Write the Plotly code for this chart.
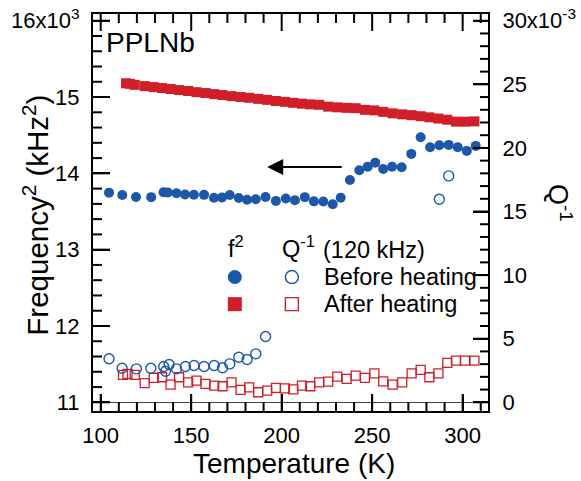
import plotly.graph_objects as go

# ---------------- data ----------------
# f^2 before heating (filled blue circles)
T_f2_before = [104.6, 111.9, 119.5, 127.9, 134.7, 137.1, 141.9, 146.6, 151.5, 157.1,
               162.6, 167.0, 171.3, 176.3, 180.9, 185.7, 191.1, 196.8, 202.3, 207.3,
               212.8, 217.8, 223.0, 228.2, 232.6, 237.7, 242.9, 247.5, 251.7, 256.1,
               261.0, 266.3, 271.6, 276.8, 282.0, 287.1, 292.3, 297.3, 302.3, 307.2]
f2_before = [13747, 13717, 13690, 13688, 13753, 13749, 13739, 13723, 13719, 13718,
             13680, 13684, 13717, 13677, 13655, 13661, 13690, 13639, 13671, 13648,
             13688, 13633, 13631, 13596, 13680, 13913, 14041, 14088, 14140, 14058,
             14088, 14080, 14255, 14474, 14343, 14369, 14373, 14343, 14294, 14360]

# Q^-1 before heating (open blue circles)
T_Q_before = [104.6, 111.8, 119.7, 127.7, 134.8, 135.8, 137.8, 141.9, 146.8, 151.6,
              157.1, 162.7, 167.3, 171.3, 176.3, 180.9, 185.7, 191.1, 287.1, 292.3]
Q_before = [3.42e-3, 2.68e-3, 2.63e-3, 2.68e-3, 2.81e-3, 2.44e-3, 2.97e-3, 2.63e-3, 2.81e-3, 2.89e-3,
            2.81e-3, 2.89e-3, 2.71e-3, 3.02e-3, 3.54e-3, 3.36e-3, 3.81e-3, 5.17e-3, 15.96e-3, 17.80e-3]

# f^2 after heating (filled red squares)
T_f2_after = [114.0, 116.2, 118.8, 124.3, 129.3, 133.9, 138.6, 143.3, 148.3, 152.9,
              157.9, 162.7, 167.3, 172.3, 177.3, 182.0, 187.0, 192.0, 196.8, 201.8,
              206.4, 211.2, 215.8, 220.7, 225.7, 230.7, 235.9, 240.9, 246.0, 251.2,
              256.1, 261.3, 266.6, 271.8, 276.8, 281.6, 286.6, 291.5, 296.3, 301.3, 306.5]
f2_after = [15180, 15173, 15160, 15143, 15130, 15118, 15105, 15091, 15079, 15064,
            15052, 15038, 15026, 15012, 15000, 14990, 14976, 14963, 14948, 14937,
            14924, 14913, 14904, 14898, 14874, 14865, 14858, 14854, 14832, 14825,
            14806, 14786, 14773, 14762, 14749, 14734, 14718, 14703, 14678, 14677, 14681]

# Q^-1 after heating (open red squares)
T_Q_after = [112.3, 114.8, 118.8, 124.3, 129.3, 133.9, 138.6, 143.3, 148.3, 152.9,
             157.9, 162.7, 167.3, 172.3, 177.3, 182.0, 187.0, 192.0, 196.8, 201.8,
             206.4, 211.2, 215.8, 220.7, 225.7, 230.7, 235.9, 240.9, 246.0, 251.2,
             256.1, 261.3, 266.6, 271.8, 276.8, 281.6, 286.6, 291.5, 296.3, 301.3, 306.5]
Q_after = [2.16e-3, 2.24e-3, 2.16e-3, 1.50e-3, 1.92e-3, 1.97e-3, 1.39e-3, 1.97e-3, 1.57e-3, 1.71e-3,
           1.45e-3, 1.31e-3, 1.26e-3, 1.57e-3, 0.98e-3, 1.18e-3, 0.79e-3, 0.92e-3, 1.13e-3, 1.10e-3,
           1.02e-3, 1.31e-3, 1.26e-3, 1.57e-3, 1.63e-3, 2.02e-3, 1.84e-3, 2.10e-3, 1.92e-3, 2.28e-3,
           1.65e-3, 1.39e-3, 1.57e-3, 2.28e-3, 2.55e-3, 1.97e-3, 2.28e-3, 3.10e-3, 3.28e-3, 3.28e-3, 3.28e-3]

# axis ticks
x_ticks = [100, 150, 200, 250, 300]
y_ticks = [11000, 12000, 13000, 14000, 15000, 16000]
y_ticktext = ["11", "12", "13", "14", "15", "16x10<sup>3</sup>"]
y2_ticks = [0, 0.005, 0.010, 0.015, 0.020, 0.025, 0.030]
y2_ticktext = ["0", "5", "10", "15", "20", "25", "30x10<sup>-3</sup>"]

# minor tick positions (axis decoration)
x_minor = [v for v in range(100, 311, 10) if v not in x_ticks]
y_minor = [v for v in range(11000, 16001, 200) if v not in y_ticks]
y2_minor = [k / 1000 for k in range(0, 31) if k % 5 != 0]

# ---------------- style ----------------
BLUE = "#1d58a8"
RED = "#d01f29"
FONT = "Liberation Sans, Arial, sans-serif"

W, H = 581, 481
# plot frame in window pixels
FX0, FX1, FY0, FY1 = 93.3, 488.0, 14.3, 410.7
L, T = FX0, FY0
R, B = W - FX1, H - FY1
PW, PH = FX1 - FX0, FY1 - FY0
X_RANGE = [95.74, 314.0]


def px(xp):
    return (xp - FX0) / PW


def py(yp):
    return (FY1 - yp) / PH


fig = go.Figure()

fig.add_trace(go.Scatter(x=T_f2_after, y=f2_after, mode="markers", yaxis="y",
                         marker=dict(symbol="square", size=10, color=RED, line=dict(width=0)),
                         showlegend=False))
fig.add_trace(go.Scatter(x=T_Q_after, y=Q_after, mode="markers", yaxis="y2",
                         marker=dict(symbol="square-open", size=9, color=RED, line=dict(width=1.3)),
                         showlegend=False))
fig.add_trace(go.Scatter(x=T_Q_before, y=Q_before, mode="markers", yaxis="y2",
                         marker=dict(symbol="circle-open", size=10, color=BLUE, line=dict(width=1.4)),
                         showlegend=False))
fig.add_trace(go.Scatter(x=T_f2_before, y=f2_before, mode="markers", yaxis="y",
                         marker=dict(symbol="circle", size=10, color=BLUE, line=dict(width=0)),
                         showlegend=False))

TICKFONT = dict(family=FONT, size=22, color="black")


def axis(**kw):
    d = dict(showline=True, linecolor="black", linewidth=2, ticks="inside",
             tickcolor="black", tickwidth=2, showgrid=False)
    d.update(kw)
    return d


fig.update_layout(
    template="none",
    width=W, height=H,
    margin=dict(l=L, r=R, t=T, b=B, pad=0, autoexpand=False),
    plot_bgcolor="white", paper_bgcolor="white",
    font=dict(family=FONT, color="black"),
    xaxis=axis(range=X_RANGE, tickmode="array", tickvals=x_ticks, ticklen=17, mirror=True,
               tickfont=TICKFONT, ticklabelstandoff=4),
    yaxis=axis(range=[10886, 16088], tickmode="array", tickvals=y_ticks, ticktext=y_ticktext,
               ticklen=17, tickfont=TICKFONT, ticklabeloverflow="allow", ticklabelstandoff=7),
    yaxis2=axis(range=[-0.000685, 0.03053], overlaying="y", side="right", tickmode="array",
                tickvals=y2_ticks, ticktext=y2_ticktext, ticklen=15, tickfont=TICKFONT,
                ticklabeloverflow="allow", ticklabelstandoff=8),
)

ann = []
# axis titles
ann.append(dict(x=px(294), y=py(463), xref="paper", yref="paper", text="Temperature (K)",
                showarrow=False, font=dict(size=28), xanchor="center", yanchor="middle"))
ann.append(dict(x=px(35), y=py(215), xref="paper", yref="paper",
                text="Frequency<sup>2</sup> (kHz<sup>2</sup>)", textangle=-90,
                showarrow=False, font=dict(size=29.5), xanchor="center", yanchor="middle"))
ann.append(dict(x=px(560), y=py(203), xref="paper", yref="paper",
                text="Q<sup>-1</sup>", textangle=90,
                showarrow=False, font=dict(size=27), xanchor="center", yanchor="middle"))
# sample label
ann.append(dict(x=px(104), y=py(43), xref="paper", yref="paper", text="PPLNb",
                showarrow=False, font=dict(size=28), xanchor="left", yanchor="middle"))
# legend texts
ann.append(dict(x=px(236), y=py(247), xref="paper", yref="paper", text="f<sup>2</sup>",
                showarrow=False, font=dict(size=23.5), xanchor="center", yanchor="middle"))
ann.append(dict(x=px(280), y=py(247), xref="paper", yref="paper", text="Q<sup>-1</sup>",
                showarrow=False, font=dict(size=23.5), xanchor="left", yanchor="middle"))
ann.append(dict(x=px(321), y=py(250), xref="paper", yref="paper", text="(120 kHz)",
                showarrow=False, font=dict(size=23.5), xanchor="left", yanchor="middle"))
ann.append(dict(x=px(322), y=py(277), xref="paper", yref="paper", text="Before heating",
                showarrow=False, font=dict(size=23.5), xanchor="left", yanchor="middle"))
ann.append(dict(x=px(322), y=py(304), xref="paper", yref="paper", text="After heating",
                showarrow=False, font=dict(size=23.5), xanchor="left", yanchor="middle"))
# arrow
ann.append(dict(x=192.0, y=14084, ax=234.0, ay=14084, xref="x", yref="y", axref="x", ayref="y",
                text="", showarrow=True, arrowhead=2, arrowsize=1.6, arrowwidth=2,
                arrowcolor="black"))
fig.update_layout(annotations=ann)

shapes = []
TICK_LINE = dict(color="black", width=2)


# tick marks drawn explicitly on all four sides (inside)
def xtick(v, ln, top):
    return dict(type="line", xref="x", yref="y domain", ysizemode="pixel",
                yanchor=(1 if top else 0), y0=0, y1=(-ln if top else ln), x0=v, x1=v,
                line=TICK_LINE, layer="above")


def ytick(v, ln, ref, right):
    return dict(type="line", xref="x domain", yref=ref, xsizemode="pixel",
                xanchor=(1 if right else 0), x0=0, x1=(-ln if right else ln), y0=v, y1=v,
                line=TICK_LINE, layer="above")


for top in (False, True):
    shapes += [xtick(v, 17, top) for v in x_ticks]
    shapes += [xtick(v, 9, top) for v in x_minor]
shapes += [ytick(v, 17, "y", False) for v in y_ticks]
shapes += [ytick(v, 9, "y", False) for v in y_minor]
shapes += [ytick(v, 15, "y2", True) for v in y2_ticks]
shapes += [ytick(v, 8, "y2", True) for v in y2_minor]


# legend markers
def marker_shape(kind, xc, yc, size, fill, line_w):
    return dict(type=kind, xref="paper", yref="paper", xsizemode="pixel", ysizemode="pixel",
                xanchor=px(xc), yanchor=py(yc), x0=-size / 2, x1=size / 2, y0=-size / 2, y1=size / 2,
                fillcolor=fill, line=dict(color=(BLUE if kind == "circle" else RED), width=line_w),
                layer="above")


shapes.append(marker_shape("circle", 235, 277, 14, BLUE, 0))
shapes.append(marker_shape("circle", 292, 277, 13, "rgba(0,0,0,0)", 1.5))
shapes.append(marker_shape("rect", 235, 304, 14, RED, 0))
shapes.append(marker_shape("rect", 292, 304, 13, "rgba(0,0,0,0)", 1.3))
fig.update_layout(shapes=shapes)

fig.write_html("out.html", config={"displayModeBar": False},
               post_script="document.body.style.margin='0';document.body.style.overflow='hidden';")
